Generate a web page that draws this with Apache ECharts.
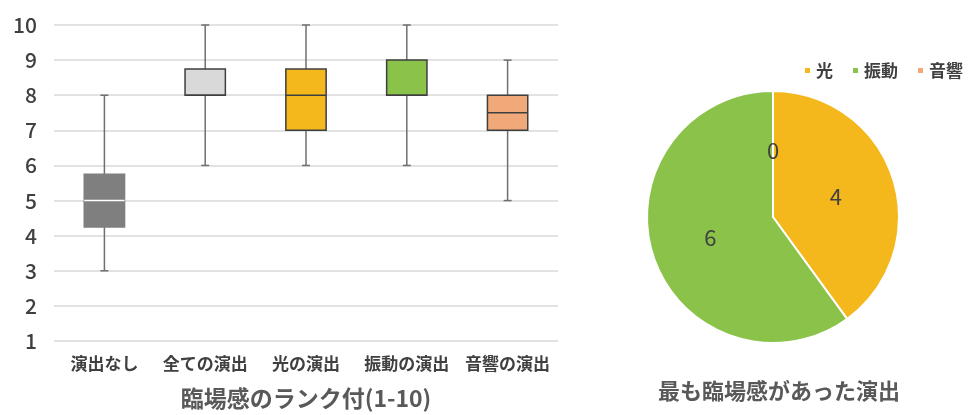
<!DOCTYPE html>
<html>
<head>
<meta charset="utf-8">
<script src="https://cdn.jsdelivr.net/npm/echarts@6/dist/echarts.min.js"></script>
<style>html,body{margin:0;padding:0;background:#fff}#c{width:972px;height:415px}</style>
</head>
<body>
<div id="c"></div>
<script>
// ---- data ----
var categories = ['演出なし', '全ての演出', '光の演出', '振動の演出', '音響の演出'];
var mins    = [3,    6,    6,    6, 5];
var q1s     = [4.25, 8,    7,    8, 7];
var medians = [5,    8,    8,    8, 7.5];
var q3s     = [5.75, 8.75, 8.75, 9, 8];
var maxs    = [8,    10,   10,   10, 9];
var yTicks  = [1, 2, 3, 4, 5, 6, 7, 8, 9, 10];

var pieNames  = ['光', '振動', '音響'];
var pieValues = [4, 6, 0];

// ---- styles ----
var boxFill   = ['#7f7f7f', '#d9d9d9', '#f4b81c', '#8bc34a', '#f1a97a'];
var boxStroke = ['#7f7f7f', '#3f3f3f', '#3f3f3f', '#3f3f3f', '#3f3f3f'];
var medStroke = ['#ffffff', '#3f3f3f', '#3f3f3f', '#3f3f3f', '#3f3f3f'];
var pieColors = ['#f4b81c', '#8bc34a', '#f1a97a'];
var FONT = '"Noto Sans CJK JP", "Noto Sans", sans-serif';

var boxData = categories.map(function (c, i) {
  return [i, mins[i], q1s[i], medians[i], q3s[i], maxs[i]];
});

var chart = echarts.init(document.getElementById('c'), null, {renderer: 'canvas'});

chart.setOption({
  animation: false,
  textStyle: {fontFamily: FONT},
  title: {
    text: '最も臨場感があった演出',
    left: 653, top: 375,
    textStyle: {fontFamily: FONT, fontSize: 22, fontWeight: 'bold', color: '#595959'}
  },
  legend: {
    data: pieNames,
    right: 4, top: 57,
    icon: 'rect', itemWidth: 7, itemHeight: 7, itemGap: 18,
    textStyle: {fontFamily: FONT, fontSize: 17, fontWeight: 'bold', color: '#404040'}
  },
  grid: {left: 54, right: 414, top: 25, bottom: 72},
  xAxis: {
    type: 'category',
    data: categories,
    axisLine: {show: false},
    axisTick: {show: false},
    axisLabel: {fontFamily: FONT, fontSize: 17, fontWeight: 'bold', color: '#404040', margin: 14, interval: 0},
    name: '臨場感のランク付(1-10)',
    nameLocation: 'middle',
    nameGap: 46,
    nameTextStyle: {fontFamily: FONT, fontSize: 23, fontWeight: 'bold', color: '#595959'}
  },
  yAxis: {
    type: 'value',
    min: yTicks[0], max: yTicks[yTicks.length - 1], interval: 1,
    axisLine: {show: false},
    axisTick: {show: false},
    axisLabel: {fontFamily: FONT, fontSize: 21, fontWeight: 500, color: '#404040', margin: 17},
    splitLine: {lineStyle: {color: '#d9d9d9', width: 1.5}}
  },
  series: [
    {
      type: 'custom',
      data: boxData,
      encode: {x: 0, y: [1, 2, 3, 4, 5]},
      z: 3,
      renderItem: function (params, api) {
        var i = api.value(0);
        var pMin = api.coord([i, api.value(1)]);
        var pQ1  = api.coord([i, api.value(2)]);
        var pMed = api.coord([i, api.value(3)]);
        var pQ3  = api.coord([i, api.value(4)]);
        var pMax = api.coord([i, api.value(5)]);
        var bw = api.size([1, 0])[0] * 0.4;
        var cap = 8;
        var x = pQ1[0];
        var wStyle = {stroke: '#6f6f6f', lineWidth: 1.5};
        return {
          type: 'group',
          children: [
            {type: 'line', shape: {x1: x, y1: pMax[1], x2: x, y2: pQ3[1]}, style: wStyle},
            {type: 'line', shape: {x1: x, y1: pQ1[1], x2: x, y2: pMin[1]}, style: wStyle},
            {type: 'line', shape: {x1: x - cap / 2, y1: pMax[1], x2: x + cap / 2, y2: pMax[1]}, style: wStyle},
            {type: 'line', shape: {x1: x - cap / 2, y1: pMin[1], x2: x + cap / 2, y2: pMin[1]}, style: wStyle},
            {type: 'rect', shape: {x: x - bw / 2, y: pQ3[1], width: bw, height: pQ1[1] - pQ3[1]},
              style: {fill: boxFill[i], stroke: boxStroke[i], lineWidth: 1.5}},
            {type: 'line', shape: {x1: x - bw / 2, y1: pMed[1], x2: x + bw / 2, y2: pMed[1]},
              style: {stroke: medStroke[i], lineWidth: 1.5}}
          ]
        };
      }
    },
    {
      type: 'pie',
      center: [773, 217],
      radius: [0, 126],
      startAngle: 90,
      clockwise: true,
      color: pieColors,
      data: pieNames.map(function (n, i) { return {name: n, value: pieValues[i]}; }),
      itemStyle: {borderColor: '#ffffff', borderWidth: 2},
      label: {
        show: true, position: 'inside', formatter: '{c}',
        fontFamily: FONT, fontSize: 22, color: '#404040', fontWeight: 'normal'
      },
      labelLine: {show: false},
      emphasis: {disabled: true}
    }
  ]
});
</script>
</body>
</html>
